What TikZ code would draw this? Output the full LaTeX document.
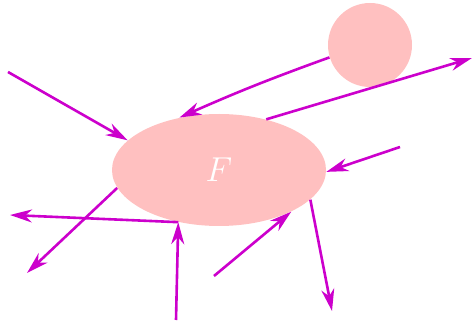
\documentclass[tikz,border=0pt]{standalone}
\usepackage{xcolor}
\usepackage{tikz}
\usetikzlibrary{arrows.meta, shapes.geometric, positioning}

\definecolor{flow}{RGB}{204,0,204}
\definecolor{blob}{RGB}{255,192,192}

\tikzset{
    body/.style={fill=blob, draw=none, inner sep=0pt},
    flux/.style={draw=flow, line width=1.3pt,
        -{Stealth[length=11pt, width=6.5pt, inset=3.5pt]}}
}

\begin{document}
\begin{tikzpicture}[x=0.5pt, y=-0.5pt]
        \useasboundingbox (0,0) rectangle (475,325);
        \node[body, ellipse, minimum width=107pt, minimum height=56pt] (F) at (219,170) {\LARGE\color{white}$F$};
        \node[body, circle, minimum size=42pt] (G) at (370,45) {};
%
        \coordinate (a) at (8,72);
        \coordinate (b) at (472,58);
        \coordinate (c) at (400,147);
        \coordinate (d) at (10,215);
        \coordinate (e) at (27,273);
        \coordinate (f) at (176,320);
        \coordinate (g) at (214,276);
        \coordinate (h) at (332,311);
%
		\path[every edge/.style={flux}]
        (a) edge (F.162)
        (G.197) edge [bend right=2] (F.127)
        (F.47) edge (b)
        (c) edge (F.-1)
        (F.232) edge (d)
        (F.190) edge (e)
        (f) edge (F.232)
        (g) edge (F.-30)
        (F.-18) edge (h);
	\end{tikzpicture}
\end{document}
